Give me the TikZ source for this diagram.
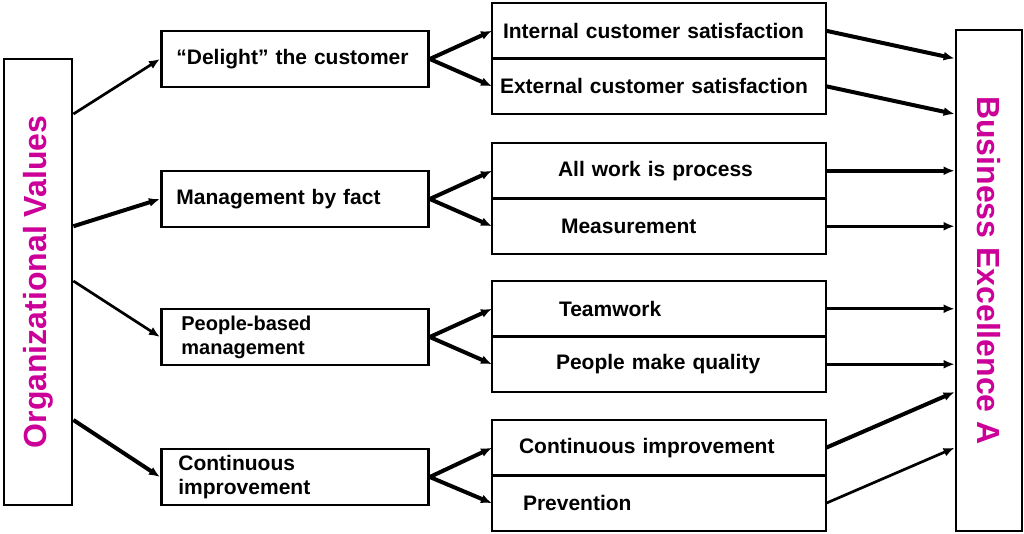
\documentclass[tikz,border=0pt]{standalone}
\usepackage{fontspec}
\setmainfont{Liberation Sans}
\usepackage{xcolor}
\usepackage{tikz}
\usetikzlibrary{positioning,arrows.meta,calc}
\definecolor{valmagenta}{RGB}{204,0,153}

\begin{document}
\begin{tikzpicture}[x=1pt,y=-1pt,>={Latex[length=11pt,width=9pt]},every node/.style={font=\bfseries\fontsize{21}{24}\selectfont},
  cell/.style={draw,rectangle,line width=2.8pt,outer sep=0pt,minimum width=334,minimum height=55.5,inner xsep=0pt,text width=#1,align=left},
  midbox/.style={draw,rectangle,line width=2.8pt,minimum width=267,minimum height=56,inner xsep=0pt,text width=#1,align=left,anchor=west},
  title/.style={text=valmagenta,font=\bfseries\fontsize{32}{36}\selectfont},
  arr/.style={->,line width=2.7pt},
  arrbold/.style={->,line width=4pt}]
  \useasboundingbox (0,0) rectangle (1024,533);
  % Values (left)
  
\node[draw,rectangle,line width=2.8pt,minimum width=68,minimum height=446,inner sep=0pt,title] (org) at (38,282) {\rotatebox{90}{Organizational Values}};

  % Principles (middle)
  
\node[midbox=237] (delight) at (160,59) {``Delight'' the customer};
  
\node[midbox=237] (mgmt) at (160,199) {Management by fact};
  
\node[midbox=227,font=\bfseries\fontsize{20}{24}\selectfont] (people) at (160,337) {People-based\\management};
  
\node[midbox=233] (cimp) at (160,477) {Continuous\\improvement};

  % Practices (right)
  
\node[cell=312,anchor=north west] (intsat) at (492,3) {Internal customer satisfaction};
  
\node[cell=318,below=0pt of intsat] (extsat) {External customer satisfaction};
  
\node[cell=202,anchor=north west] (allwork) at (492,143) {All work is process};
  
\node[cell=196,below=0pt of allwork] (meas) {Measurement};
  
\node[cell=200,anchor=north west] (team) at (492,281) {Teamwork};
  
\node[cell=206,below=0pt of team] (pmq) {People make quality};
  
\node[cell=280,anchor=north west] (contimp) at (492,420) {Continuous improvement};
  
\node[cell=272,below=0pt of contimp] (prev) {Prevention};

  % Result (far right)
  
\node[draw,rectangle,line width=2.8pt,minimum width=66,minimum height=501] (be) at (989,280.5) {};
  
\node[title,rotate=-90] (betitle) at ([yshift=10pt]be.center) {Business Excellence A};

  % Connections
  \draw[arr] (org.east |- extsat.south) -- (delight.west);
  \draw[arrbold] (org.east |- meas.west) -- (mgmt.west);
  \draw[arr] (org.east |- team.north) -- (people.west);
  \draw[arrbold] (org.east |- contimp.north) -- (cimp.west);
  \draw[arrbold] (delight.east) -- (intsat.west);
  \draw[arrbold] (delight.east) -- (extsat.west);
  \draw[arrbold] (mgmt.east) -- (allwork.west);
  \draw[arrbold] (mgmt.east) -- (meas.west);
  \draw[arrbold] (people.east) -- (team.west);
  \draw[arrbold] (people.east) -- (pmq.west);
  \draw[arrbold] (cimp.east) -- (contimp.west);
  \draw[arrbold] (cimp.east) -- (prev.west);
  \draw[arrbold] (intsat.east) -- (be.west |- extsat.north);
  \draw[arrbold] (extsat.east) -- (be.west |- extsat.south);
  \draw[arrbold] (allwork.east) -- (be.west |- allwork.east);
  \draw[arr] (meas.east) -- (be.west |- meas.east);
  \draw[arr] (team.east) -- (be.west |- team.east);
  \draw[arr] (pmq.east) -- (be.west |- pmq.east);
  \draw[arrbold] (contimp.east) -- (be.west |- pmq.south);
  \draw[arr] (prev.east) -- (be.west |- contimp.east);
\end{tikzpicture}
\end{document}
